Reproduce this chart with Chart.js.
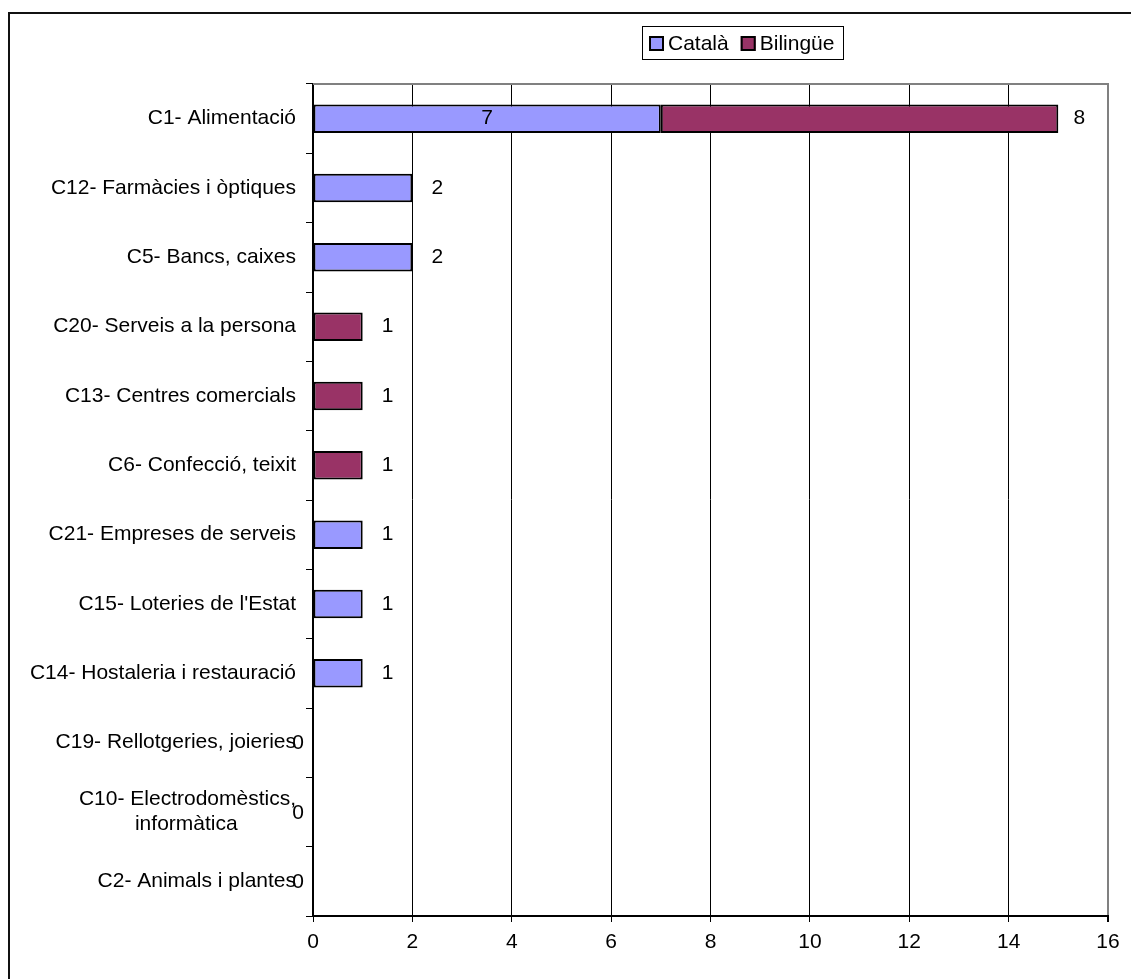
<!DOCTYPE html>
<html>
<head>
<meta charset="utf-8">
<script src="https://cdn.jsdelivr.net/npm/chart.js@4.4.1/dist/chart.umd.min.js"></script>
<style>
  html, body { margin: 0; padding: 0; background: #fff; }
  #wrap { width: 1131px; height: 979px; }
</style>
</head>
<body>
<div id="wrap"><canvas id="sectorChart" width="1131" height="979"></canvas></div>
<script>
const categories = [
  'C1- Alimentació',
  'C12- Farmàcies i òptiques',
  'C5- Bancs, caixes',
  'C20- Serveis a la persona',
  'C13- Centres comercials',
  'C6- Confecció, teixit',
  'C21- Empreses de serveis',
  "C15- Loteries de l'Estat",
  'C14- Hostaleria i restauració',
  'C19- Rellotgeries, joieries',
  ['C10- Electrodomèstics,', 'informàtica\u00a0\u00a0\u00a0\u00a0\u00a0\u00a0\u00a0\u00a0\u00a0\u00a0'],
  'C2- Animals i plantes'
];
const catala   = [7, 2, 2, 0, 0, 0, 1, 1, 1, 0, 0, 0];
const bilingue = [8, 0, 0, 1, 1, 1, 0, 0, 0, 0, 0, 0];
const seriesNames = ['Català', 'Bilingüe'];
const seriesColors = ['#9999ff', '#993366'];
const xMin = 0, xMax = 16, xStep = 2;

const FONT = '"Liberation Sans", Arial, sans-serif';
const FONT_SIZE = 21;

// white background, frame edges on the left and top
const framePlugin = {
  id: 'frame',
  beforeDraw(chart) {
    const ctx = chart.ctx;
    ctx.save();
    ctx.fillStyle = '#fff';
    ctx.fillRect(0, 0, chart.width, chart.height);
    ctx.strokeStyle = '#111';
    ctx.lineWidth = 2;
    ctx.beginPath();
    ctx.moveTo(9, chart.height);
    ctx.lineTo(9, 13);
    ctx.lineTo(chart.width, 13);
    ctx.stroke();
    ctx.restore();
  },
  afterDraw(chart) {
    // grey top edge of the plot area
    const a = chart.chartArea;
    const ctx = chart.ctx;
    ctx.save();
    ctx.strokeStyle = '#808080';
    ctx.lineWidth = 2;
    ctx.beginPath();
    ctx.moveTo(a.left, a.top);
    ctx.lineTo(a.right + 1, a.top);
    ctx.stroke();
    ctx.restore();
  }
};

// boxed legend above the plot
const boxLegend = {
  id: 'boxLegend',
  afterDraw(chart) {
    const ctx = chart.ctx;
    ctx.save();
    ctx.font = FONT_SIZE + 'px ' + FONT;
    ctx.textBaseline = 'middle';
    ctx.fillStyle = '#fff';
    ctx.fillRect(642, 26, 202, 34);
    ctx.strokeStyle = '#000';
    ctx.lineWidth = 1;
    ctx.strokeRect(642.5, 26.5, 201, 33);
    let x = 649;
    const cy = 43.5;
    seriesNames.forEach((name, i) => {
      ctx.fillStyle = seriesColors[i];
      ctx.fillRect(x, cy - 7.5, 15, 15);
      ctx.lineWidth = 2;
      ctx.strokeStyle = '#000';
      ctx.strokeRect(x + 1, cy - 6.5, 13, 13);
      ctx.fillStyle = '#000';
      ctx.fillText(name, x + 19, cy + 1);
      x += 19 + ctx.measureText(name).width + 12;
    });
    ctx.restore();
  }
};

// value labels next to / inside the bars
const valueLabels = {
  id: 'valueLabels',
  afterDatasetsDraw(chart) {
    const ctx = chart.ctx;
    const m0 = chart.getDatasetMeta(0);
    const m1 = chart.getDatasetMeta(1);
    const zeroX = chart.scales.x.getPixelForValue(0);
    ctx.save();
    ctx.font = FONT_SIZE + 'px ' + FONT;
    ctx.fillStyle = '#000';
    ctx.textAlign = 'center';
    ctx.textBaseline = 'middle';
    categories.forEach((c, i) => {
      const a = catala[i], b = bilingue[i];
      const y = m0.data[i].y;
      if (a > 0 && b > 0) {
        const el = m0.data[i];
        ctx.fillText(String(a), (el.x + el.base) / 2, y);
        ctx.fillText(String(b), m1.data[i].x + 21, y);
      } else if (a > 0) {
        ctx.fillText(String(a), m0.data[i].x + 25, y);
      } else if (b > 0) {
        ctx.fillText(String(b), m1.data[i].x + 25, y);
      } else {
        ctx.fillText('0', zeroX - 15, y + 1);
      }
    });
    ctx.restore();
  }
};

new Chart(document.getElementById('sectorChart'), {
  type: 'bar',
  data: {
    labels: categories,
    datasets: seriesNames.map((name, i) => ({
      label: name,
      data: i === 0 ? catala : bilingue,
      backgroundColor: seriesColors[i],
      borderColor: '#000',
      borderWidth: 2,
      borderSkipped: false,
      categoryPercentage: 1,
      barPercentage: 0.41
    }))
  },
  options: {
    indexAxis: 'y',
    responsive: false,
    animation: false,
    events: [],
    layout: { padding: { top: 84, right: 23, bottom: 0, left: 0 } },
    plugins: {
      legend: { display: false },
      tooltip: { enabled: false }
    },
    scales: {
      x: {
        type: 'linear',
        stacked: true,
        min: xMin,
        max: xMax,
        ticks: {
          stepSize: xStep,
          color: '#000',
          font: { family: FONT, size: FONT_SIZE },
          padding: 8
        },
        grid: {
          color: ctx => (ctx.tick && ctx.tick.value === xMax) ? '#808080' : '#000',
          lineWidth: ctx => (ctx.tick && ctx.tick.value === xMax) ? 2 : 1,
          tickColor: '#000',
          tickLength: 6
        },
        border: { color: '#000', width: 2 },
        afterFit(scale) { scale.height = 63; }
      },
      y: {
        type: 'category',
        stacked: true,
        ticks: {
          color: '#000',
          font: { family: FONT, size: FONT_SIZE },
          padding: 10,
          autoSkip: false
        },
        grid: {
          drawOnChartArea: false,
          offset: true,
          tickColor: '#000',
          tickLength: 7
        },
        border: { color: '#000', width: 2 },
        afterFit(scale) { scale.width = 313; }
      }
    }
  },
  plugins: [framePlugin, boxLegend, valueLabels]
});
</script>
</body>
</html>
